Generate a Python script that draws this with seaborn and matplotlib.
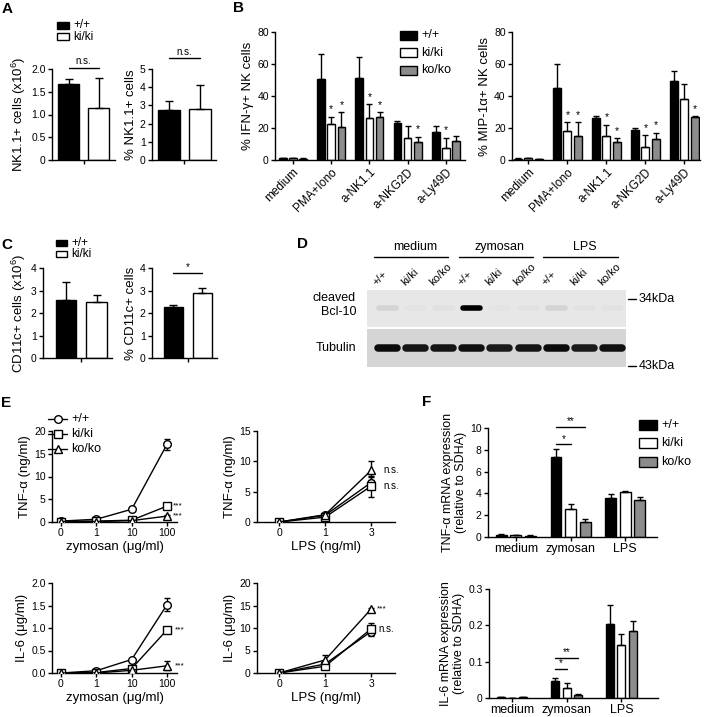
import numpy as np
import pandas as pd
import matplotlib
matplotlib.use("Agg")
import matplotlib.pyplot as plt
import seaborn as sns
from matplotlib.patches import Rectangle
from matplotlib.lines import Line2D

# ---------------- data ----------------
genos2 = ['+/+', 'ki/ki']
genos3 = ['+/+', 'ki/ki', 'ko/ko']

# A: NK cells
nk_cells = [1.68, 1.15]
nk_cells_err = [0.10, 0.65]
nk_pct = [2.75, 2.80]
nk_pct_err = [0.50, 1.30]

# B: cytokine+ NK cells
stim_b = ['medium', 'PMA+Iono', 'a-NK1.1', 'a-NKG2D', 'a-Ly49D']
ifng_wt = [1.0, 50.5, 51.5, 23.0, 17.5]
ifng_ki = [1.2, 22.5, 26.5, 13.5, 7.5]
ifng_ko = [0.9, 20.5, 27.0, 11.5, 12.0]
ifng_wt_err = [0.3, 16.0, 13.0, 1.5, 3.5]
ifng_ki_err = [0.3, 4.5, 8.5, 7.5, 6.5]
ifng_ko_err = [0.2, 9.5, 3.0, 3.0, 3.0]
ifng_ki_star = [0, 1, 1, 0, 1]
ifng_ko_star = [0, 1, 1, 1, 0]
mip_wt = [0.9, 45.0, 26.0, 19.0, 49.5]
mip_ki = [1.1, 18.0, 15.0, 8.0, 38.0]
mip_ko = [0.7, 15.0, 11.0, 13.0, 27.0]
mip_wt_err = [0.2, 15.0, 1.5, 1.0, 6.0]
mip_ki_err = [0.3, 5.5, 7.0, 7.5, 9.5]
mip_ko_err = [0.2, 8.5, 2.5, 4.0, 0.5]
mip_ki_star = [0, 1, 1, 1, 0]
mip_ko_star = [0, 1, 1, 1, 1]

# C: CD11c+ cells
dc_cells = [2.60, 2.47]
dc_cells_err = [0.80, 0.35]
dc_pct = [2.27, 2.90]
dc_pct_err = [0.07, 0.20]

# D: western blot band intensities (0-1) per lane
blot_groups = ['medium', 'zymosan', 'LPS']
blot_lanes = genos3 * 3
bcl10_band = [0.08, 0.015, 0.025, 1.0, 0.015, 0.02, 0.08, 0.02, 0.02]
tubulin_band = [0.95, 0.90, 0.90, 0.93, 0.88, 0.90, 0.95, 0.88, 0.92]

# E: cytokine secretion
zym_doses = ['0', '1', '10', '100']
lps_doses = ['0', '1', '3']
tnf_zym_wt = [0.2, 0.6, 2.8, 17.1]
tnf_zym_ki = [0.1, 0.2, 0.4, 3.5]
tnf_zym_ko = [0.1, 0.1, 0.3, 1.3]
tnf_zym_wt_err = [0.1, 0.1, 0.3, 1.2]
tnf_zym_ki_err = [0.0, 0.0, 0.1, 0.3]
tnf_zym_ko_err = [0.0, 0.0, 0.1, 0.2]
tnf_lps_wt = [0.0, 1.1, 6.5]
tnf_lps_ki = [0.0, 0.8, 5.9]
tnf_lps_ko = [0.0, 1.2, 8.5]
tnf_lps_wt_err = [0.0, 0.2, 1.0]
tnf_lps_ki_err = [0.0, 0.2, 1.7]
tnf_lps_ko_err = [0.0, 0.2, 1.6]
il6_zym_wt = [0.0, 0.05, 0.30, 1.52]
il6_zym_ki = [0.0, 0.01, 0.10, 0.96]
il6_zym_ko = [0.0, 0.0, 0.06, 0.16]
il6_zym_wt_err = [0.0, 0.01, 0.02, 0.15]
il6_zym_ki_err = [0.0, 0.0, 0.02, 0.03]
il6_zym_ko_err = [0.0, 0.0, 0.01, 0.10]
il6_lps_wt = [0.0, 2.0, 9.2]
il6_lps_ki = [0.0, 1.5, 9.8]
il6_lps_ko = [0.0, 2.9, 14.2]
il6_lps_wt_err = [0.0, 0.5, 1.0]
il6_lps_ki_err = [0.0, 0.4, 1.3]
il6_lps_ko_err = [0.0, 1.0, 0.3]

# F: mRNA expression
stim_f = ['medium', 'zymosan', 'LPS']
tnf_mrna_wt = [0.22, 7.35, 3.62]
tnf_mrna_ki = [0.14, 2.55, 4.10]
tnf_mrna_ko = [0.12, 1.35, 3.35]
tnf_mrna_wt_err = [0.05, 0.70, 0.28]
tnf_mrna_ki_err = [0.03, 0.45, 0.12]
tnf_mrna_ko_err = [0.02, 0.30, 0.35]
il6_mrna_wt = [0.0015, 0.046, 0.205]
il6_mrna_ki = [0.0010, 0.028, 0.145]
il6_mrna_ko = [0.0020, 0.009, 0.185]
il6_mrna_wt_err = [0.0, 0.008, 0.052]
il6_mrna_ki_err = [0.0, 0.012, 0.032]
il6_mrna_ko_err = [0.0, 0.001, 0.027]

# ---------------- style ----------------
W, H = 705, 717
sns.set_theme(style='ticks')
plt.rcParams['font.family'] = ['Liberation Sans', 'DejaVu Sans']
plt.rcParams.update({
    'axes.linewidth': 1.0, 'axes.edgecolor': 'black',
    'xtick.major.size': 3, 'ytick.major.size': 3,
    'xtick.major.width': 1, 'ytick.major.width': 1,
    'xtick.labelsize': 7.5, 'ytick.labelsize': 7.5,
    'xtick.major.pad': 1.5, 'ytick.major.pad': 1.5,
    'axes.labelsize': 9.5, 'axes.labelpad': 2,
    'text.color': 'black', 'axes.labelcolor': 'black',
    'xtick.color': 'black', 'ytick.color': 'black',
    'mathtext.fontset': 'custom', 'mathtext.rm': 'Liberation Sans',
})
colors2 = {'+/+': 'black', 'ki/ki': 'white'}
colors3 = {'+/+': 'black', 'ki/ki': 'white', 'ko/ko': '#8c8c8c'}
markers3 = {'+/+': 'o', 'ki/ki': 's', 'ko/ko': '^'}

fig = plt.figure(figsize=(W / 100, H / 100), dpi=100)


def px_axes(l, t, r, b):
    return fig.add_axes([l / W, 1 - b / H, (r - l) / W, (b - t) / H])


def fxy(x, y):
    return x / W, 1 - y / H


def pair_panel(ax, vals, errs, width):
    df = pd.DataFrame({'geno': genos2, 'val': vals})
    sns.barplot(data=df, x='geno', y='val', hue='geno', palette=colors2, saturation=1,
                width=width, errorbar=None, edgecolor='black', linewidth=1, legend=False, ax=ax)
    bars = sorted(ax.patches, key=lambda p: p.get_x())
    xs = [b.get_x() + b.get_width() / 2 for b in bars]
    hs = [b.get_height() for b in bars]
    ax.errorbar(xs, hs, yerr=[np.zeros(len(errs)), errs], fmt='none', ecolor='black',
                elinewidth=1, capsize=3, capthick=1)
    ax.set_xticks([0.5])
    ax.set_xticklabels([''])
    ax.set_xlabel('')
    sns.despine(ax=ax)
    return xs


def group_panel(ax, cats, series, errs, width, gap):
    rows = []
    for g, vals in zip(genos3, series):
        for c, v in zip(cats, vals):
            rows.append({'cat': c, 'geno': g, 'val': v})
    df = pd.DataFrame(rows)
    sns.barplot(data=df, x='cat', y='val', hue='geno', order=cats, hue_order=genos3,
                palette=colors3, saturation=1, width=width, gap=gap, errorbar=None,
                edgecolor='black', linewidth=1, legend=False, ax=ax)
    centers, tops = [], []
    for cont, err in zip(ax.containers, errs):
        xs = [b.get_x() + b.get_width() / 2 for b in cont]
        hs = [b.get_height() for b in cont]
        ax.errorbar(xs, hs, yerr=[np.zeros(len(err)), err], fmt='none', ecolor='black',
                    elinewidth=1, capsize=2.5, capthick=1)
        centers.append(xs)
        tops.append([h + e for h, e in zip(hs, err)])
    ax.set_xlabel('')
    sns.despine(ax=ax)
    return centers, tops


def bracket(ax, x0, x1, y, label, dy, fs=7):
    ax.plot([x0, x1], [y, y], color='black', lw=1, clip_on=False)
    ax.text((x0 + x1) / 2, y + dy, label, ha='center', va='bottom', fontsize=fs, clip_on=False)


def dose_panel(ax, doses, series, errs):
    pos = list(range(len(doses)))
    df = pd.DataFrame({'pos': pos * 3, 'val': sum(series, []),
                       'geno': np.repeat(genos3, len(doses))})
    sns.lineplot(data=df, x='pos', y='val', style='geno', style_order=genos3, markers=markers3,
                 dashes=False, color='black', lw=1, ms=5.5, mfc='white', mec='black', mew=1,
                 errorbar=None, legend=False, ax=ax, zorder=3)
    for vals, err in zip(series, errs):
        ax.errorbar(pos, vals, yerr=err, fmt='none', ecolor='black', elinewidth=1,
                    capsize=2.5, capthick=1, zorder=2)
    ax.set_xticks(pos)
    ax.set_xticklabels(doses)
    ax.set_ylabel('')
    sns.despine(ax=ax)


def box_legend(x, ys, labels, colors, w, h, fs):
    for y, lab in zip(ys, labels):
        fig.add_artist(Rectangle(fxy(x, y + h / 2), w / W, h / H, transform=fig.transFigure,
                                 fc=colors[lab], ec='black', lw=1))
        fig.text(*fxy(x + w + 4, y), lab, ha='left', va='center', fontsize=fs)


# ---------------- panel labels ----------------
for lab, x, y in [('A', 7, 9), ('B', 239, 8), ('C', 7, 245), ('D', 302, 244),
                  ('E', 6, 403), ('F', 427, 402)]:
    fig.text(*fxy(x, y), lab, fontsize=11, fontweight='bold', ha='center', va='center')

# ---------------- A ----------------
ax = px_axes(52, 69, 115, 160)
xs = pair_panel(ax, nk_cells, nk_cells_err, 0.7)
ax.set_xlim(-0.55, 1.55)
ax.set_ylim(0, 2)
ax.set_yticks([0, 0.5, 1.0, 1.5, 2.0])
ax.set_yticklabels(['0', '0.5', '1.0', '1.5', '2.0'])
ax.set_ylabel('NK1.1+ cells (x10$^6$)')
bracket(ax, xs[0], xs[1], 2.03, 'n.s.', 0.03)

ax = px_axes(152, 69, 216, 160)
xs = pair_panel(ax, nk_pct, nk_pct_err, 0.7)
ax.set_xlim(-0.55, 1.52)
ax.set_ylim(0, 5)
ax.set_yticks(range(6))
ax.set_ylabel('% NK1.1+ cells')
bracket(ax, xs[0], xs[1], 5.6, 'n.s.', 0.08)

box_legend(57, [25.5, 36.5], genos2, colors2, 12, 6, 8.5)

# ---------------- B ----------------
for l, r, xlim, wt, ki, ko, we, ke, oe, ks, os_, ylab in [
        (275, 465, (-0.47, 4.5), ifng_wt, ifng_ki, ifng_ko, ifng_wt_err, ifng_ki_err, ifng_ko_err,
         ifng_ki_star, ifng_ko_star, '% IFN-γ+ NK cells'),
        (512, 700, (-0.42, 4.4), mip_wt, mip_ki, mip_ko, mip_wt_err, mip_ki_err, mip_ko_err,
         mip_ki_star, mip_ko_star, '% MIP-1α+ NK cells')]:
    ax = px_axes(l, 32, r, 160)
    centers, tops = group_panel(ax, stim_b, [wt, ki, ko], [we, ke, oe], 0.8, 0.25)
    ax.set_xlim(*xlim)
    ax.set_ylim(0, 80)
    ax.set_yticks(range(0, 81, 20))
    ax.set_xticklabels(stim_b, rotation=45, ha='right', rotation_mode='anchor', fontsize=8.5)
    ax.set_ylabel(ylab)
    for hi, flags in [(1, ks), (2, os_)]:
        for x, t, f in zip(centers[hi], tops[hi], flags):
            if f:
                ax.text(x, t + 1.5, '*', ha='center', va='bottom', fontsize=7.5)

box_legend(400, [35, 52.5, 70], genos3, colors3, 17, 9, 9)

# ---------------- C ----------------
ax = px_axes(43, 268, 112, 358)
pair_panel(ax, dc_cells, dc_cells_err, 0.68)
ax.set_xlim(-0.75, 1.5)
ax.set_ylim(0, 4)
ax.set_yticks(range(5))
ax.set_ylabel('CD11c+ cells (x10$^6$)')

ax = px_axes(152, 268, 217, 358)
xs = pair_panel(ax, dc_pct, dc_pct_err, 0.68)
ax.set_xlim(-0.74, 1.5)
ax.set_ylim(0, 4)
ax.set_yticks(range(5))
ax.set_ylabel('% CD11c+ cells')
bracket(ax, xs[0], xs[1], 3.78, '*', 0.02)

box_legend(56, [243, 254], genos2, colors2, 11, 6, 8.5)

# ---------------- D (blot) ----------------
axd = px_axes(290, 240, 705, 400)
axd.set_xlim(290, 705)
axd.set_ylim(400, 240)
axd.axis('off')
lane_x = 387 + 28.2 * np.arange(len(blot_lanes))
axd.add_patch(Rectangle((367, 290), 259, 37, fc='#e7e7e7', ec='none'))
axd.add_patch(Rectangle((367, 329), 259, 38, fc='#d5d5d5', ec='none'))
for x, a in zip(lane_x, bcl10_band):
    axd.plot([x - 8.5, x + 8.5], [308, 308], color='black', lw=4.0, alpha=a,
             solid_capstyle='round')
for x, a in zip(lane_x, tubulin_band):
    axd.plot([x - 9.5, x + 9.5], [348, 348], color='black', lw=5.4, alpha=a,
             solid_capstyle='round')
for x, lab in zip(lane_x, blot_lanes):
    axd.text(x - 9, 287, lab, rotation=45, rotation_mode='anchor', ha='left', va='bottom',
             fontsize=8)
for g, lab in enumerate(blot_groups):
    x0, x1 = lane_x[3 * g] - 13, lane_x[3 * g + 2] + 5
    axd.plot([x0, x1], [257, 257], color='black', lw=1)
    axd.text(lane_x[3 * g + 1], 247, lab, ha='center', va='center', fontsize=9)
axd.text(356, 305, 'cleaved\nBcl-10', ha='right', va='center', fontsize=9,
         multialignment='right', linespacing=1.3)
axd.text(356, 348, 'Tubulin', ha='right', va='center', fontsize=9)
for y, lab in [(299, '34kDa'), (366, '43kDa')]:
    axd.plot([628, 636], [y, y], color='black', lw=1)
    axd.text(639, y, lab, ha='left', va='center', fontsize=9)

# ---------------- E ----------------
ax = px_axes(52, 431, 177, 522)
dose_panel(ax, zym_doses, [tnf_zym_wt, tnf_zym_ki, tnf_zym_ko],
           [tnf_zym_wt_err, tnf_zym_ki_err, tnf_zym_ko_err])
ax.set_xlim(-0.25, 3.28)
ax.set_ylim(0, 20)
ax.set_yticks(range(0, 21, 5))
ax.set_ylabel('TNF-α (ng/ml)')
ax.set_xlabel('zymosan (μg/ml)')
for v in [tnf_zym_ki[-1], tnf_zym_ko[-1]]:
    ax.text(3.15, v, '***', ha='left', va='center', fontsize=6)

ax = px_axes(257, 431, 395, 522)
dose_panel(ax, lps_doses, [tnf_lps_wt, tnf_lps_ki, tnf_lps_ko],
           [tnf_lps_wt_err, tnf_lps_ki_err, tnf_lps_ko_err])
ax.set_xlim(-0.48, 2.52)
ax.set_ylim(0, 15)
ax.set_yticks(range(0, 16, 5))
ax.set_ylabel('TNF-α (ng/ml)')
ax.set_xlabel('LPS (ng/ml)')
for v in [tnf_lps_ko[-1], tnf_lps_ki[-1]]:
    ax.text(2.26, v, 'n.s.', ha='left', va='center', fontsize=7, clip_on=False)

ax = px_axes(52, 583, 177, 673)
dose_panel(ax, zym_doses, [il6_zym_wt, il6_zym_ki, il6_zym_ko],
           [il6_zym_wt_err, il6_zym_ki_err, il6_zym_ko_err])
ax.set_xlim(-0.25, 3.28)
ax.set_ylim(0, 2)
ax.set_yticks([0, 0.5, 1.0, 1.5, 2.0])
ax.set_yticklabels(['0.0', '0.5', '1.0', '1.5', '2.0'])
ax.set_ylabel('IL-6 (μg/ml)')
ax.set_xlabel('zymosan (μg/ml)')
for v in [il6_zym_ki[-1], il6_zym_ko[-1]]:
    ax.text(3.22, v, '***', ha='left', va='center', fontsize=6, clip_on=False)

ax = px_axes(257, 583, 395, 673)
dose_panel(ax, lps_doses, [il6_lps_wt, il6_lps_ki, il6_lps_ko],
           [il6_lps_wt_err, il6_lps_ki_err, il6_lps_ko_err])
ax.set_xlim(-0.48, 2.52)
ax.set_ylim(0, 20)
ax.set_yticks(range(0, 21, 5))
ax.set_ylabel('IL-6 (μg/ml)')
ax.set_xlabel('LPS (ng/ml)')
ax.text(2.13, il6_lps_ko[-1], '***', ha='left', va='center', fontsize=6, clip_on=False)
ax.text(2.15, il6_lps_ki[-1], 'n.s.', ha='left', va='center', fontsize=7, clip_on=False)

# E legend
for y, g in zip([419, 434, 449], genos3):
    fig.add_artist(Line2D([48 / W, 67 / W], [1 - y / H] * 2, transform=fig.transFigure,
                          color='black', lw=1))
    fig.add_artist(Line2D([57.5 / W], [1 - y / H], transform=fig.transFigure, marker=markers3[g],
                          ms=5.5, mfc='white', mec='black', mew=1, ls='none'))
    fig.text(*fxy(71, y), g, ha='left', va='center', fontsize=9)

# ---------------- F ----------------
ax = px_axes(488, 428, 657, 537)
centers, tops = group_panel(ax, stim_f, [tnf_mrna_wt, tnf_mrna_ki, tnf_mrna_ko],
                            [tnf_mrna_wt_err, tnf_mrna_ki_err, tnf_mrna_ko_err], 0.8, 0.25)
ax.set_xlim(-0.51, 2.58)
ax.set_ylim(0, 10)
ax.set_yticks(range(0, 11, 2))
ax.tick_params(axis='x', labelsize=9)
ax.set_ylabel('TNF-α mRNA expression\n(relative to SDHA)', fontsize=9)
bracket(ax, centers[0][1], centers[1][1], 8.5, '*', 0.05)
bracket(ax, centers[0][1], centers[2][1], 10.1, '**', 0.05)
box_legend(639, [425, 443, 462], genos3, colors3, 18, 10, 9)

ax = px_axes(489, 589, 658, 698)
centers, tops = group_panel(ax, stim_f, [il6_mrna_wt, il6_mrna_ki, il6_mrna_ko],
                            [il6_mrna_wt_err, il6_mrna_ki_err, il6_mrna_ko_err], 0.62, 0.3)
ax.set_xlim(-0.42, 2.67)
ax.set_ylim(0, 0.3)
ax.set_yticks([0, 0.1, 0.2, 0.3])
ax.set_yticklabels(['0', '0.1', '0.2', '0.3'])
ax.tick_params(axis='x', labelsize=9)
ax.set_ylabel('IL-6 mRNA expression\n(relative to SDHA)', fontsize=9)
bracket(ax, centers[0][1], centers[1][1], 0.079, '*', 0.002)
bracket(ax, centers[0][1], centers[2][1], 0.11, '**', 0.002)

fig.savefig('out.png', dpi=100)
